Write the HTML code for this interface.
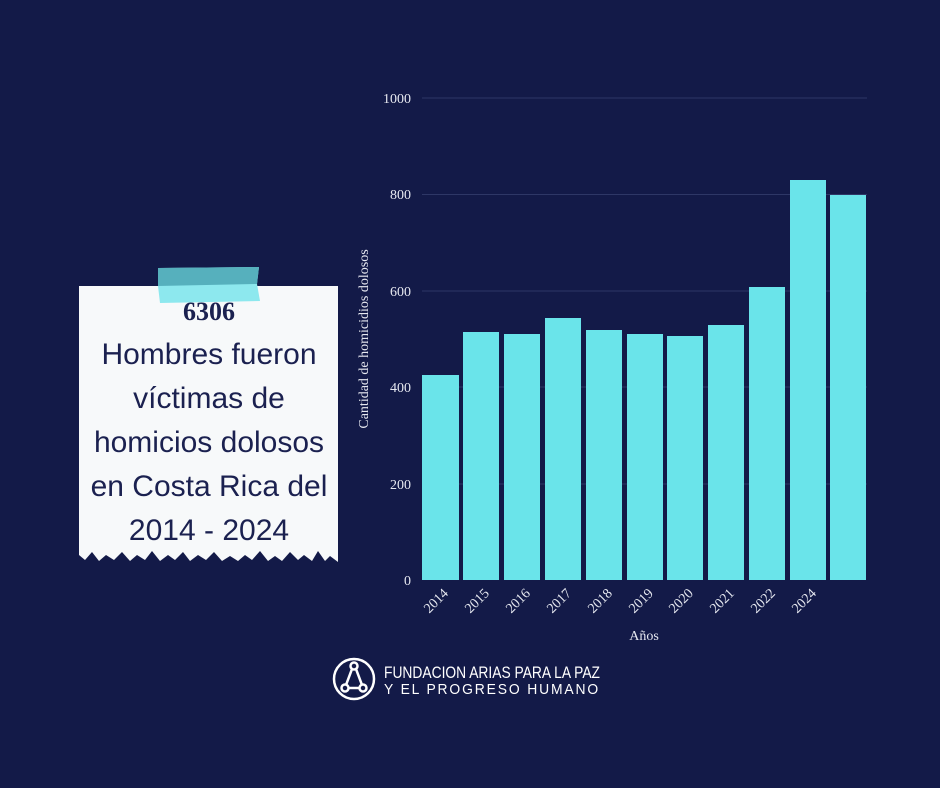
<!DOCTYPE html>
<html><head><meta charset="utf-8"><style>
html,body{margin:0;padding:0;background:#131a48;}
svg{display:block}
</style></head><body>
<svg width="940" height="788" viewBox="0 0 940 788" xmlns="http://www.w3.org/2000/svg" font-family="Liberation Serif, serif">
<rect width="940" height="788" fill="#131a48"/>
<g stroke="#2e3766" stroke-width="1">
<line x1="422" y1="98" x2="867" y2="98"/>
<line x1="422" y1="194.5" x2="867" y2="194.5"/>
<line x1="422" y1="291" x2="867" y2="291"/>
<line x1="422" y1="387" x2="867" y2="387"/>
<line x1="422" y1="484" x2="867" y2="484"/>
</g>
<g fill="#e6e8f0" font-size="14" text-anchor="end">
<text x="411" y="103">1000</text>
<text x="411" y="199">800</text>
<text x="411" y="296">600</text>
<text x="411" y="392">400</text>
<text x="411" y="489">200</text>
<text x="411" y="585">0</text>
</g>
<g fill="#6ae4ea">
<rect x="422" y="375" width="37" height="205"/>
<rect x="463" y="332" width="36" height="248"/>
<rect x="504" y="334" width="36" height="246"/>
<rect x="545" y="318" width="36" height="262"/>
<rect x="586" y="330" width="36" height="250"/>
<rect x="627" y="334" width="36" height="246"/>
<rect x="667" y="336" width="36" height="244"/>
<rect x="708" y="325" width="36" height="255"/>
<rect x="749" y="287" width="36" height="293"/>
<rect x="790" y="180" width="36" height="400"/>
<rect x="830" y="195" width="36" height="385"/>
</g>
<g fill="#e6e8f0" font-size="14" text-anchor="end">
<text transform="translate(449,594) rotate(-45)">2014</text>
<text transform="translate(490,594) rotate(-45)">2015</text>
<text transform="translate(531,594) rotate(-45)">2016</text>
<text transform="translate(572,594) rotate(-45)">2017</text>
<text transform="translate(613,594) rotate(-45)">2018</text>
<text transform="translate(654,594) rotate(-45)">2019</text>
<text transform="translate(694,594) rotate(-45)">2020</text>
<text transform="translate(735,594) rotate(-45)">2021</text>
<text transform="translate(776,594) rotate(-45)">2022</text>
<text transform="translate(817,594) rotate(-45)">2024</text>
</g>
<text x="644" y="640" fill="#e6e8f0" font-size="14" text-anchor="middle">Años</text>
<text transform="translate(368,339) rotate(-90)" fill="#e6e8f0" font-size="14" text-anchor="middle">Cantidad de homicidios dolosos</text>

<path d="M79,286 L338,286 L338,562 L330,556 L325,561 L318,551 L312,561 L304,555 L298,560 L290,552 L282,561 L275,556 L268,561 L260,551 L252,560 L245,555 L238,561 L230,556 L222,561 L214,552 L206,560 L198,555 L190,561 L183,552 L175,560 L168,555 L160,561 L152,551 L145,560 L137,555 L130,561 L122,552 L114,560 L106,555 L99,561 L92,552 L85,560 L79,555 Z" fill="#f7f9fa"/>
<path d="M158,268 L259,267 L257,284 L260,301 L160,303 L158,286 Z" fill="#8de8ee"/>
<path d="M158,268 L259,267 L257,284 L158,286 Z" fill="#56b0bd"/>
<g fill="#1b2150" text-anchor="middle" font-family="Liberation Sans, sans-serif" font-size="30">
<text x="209" y="320" font-family="Liberation Serif, serif" font-weight="bold" font-size="26">6306</text>
<text x="209" y="364">Hombres fueron</text>
<text x="209" y="408">víctimas de</text>
<text x="209" y="452">homicios dolosos</text>
<text x="209" y="496">en Costa Rica del</text>
<text x="209" y="540">2014 - 2024</text>
</g>

<circle cx="354" cy="679" r="20" fill="none" stroke="#fff" stroke-width="2.5"/>
<g stroke="#fff" stroke-width="2.5" fill="none">
<circle cx="354" cy="666" r="3.5"/>
<circle cx="345" cy="688" r="3.5"/>
<circle cx="363" cy="688" r="3.5"/>
<line x1="352" y1="669" x2="346" y2="685"/>
<line x1="356" y1="669" x2="362" y2="685"/>
<line x1="348" y1="688" x2="360" y2="688"/>
</g>
<g fill="#fff" font-family="Liberation Sans, sans-serif" font-size="17">
<text x="384" y="678" textLength="216" lengthAdjust="spacingAndGlyphs">FUNDACION ARIAS PARA LA PAZ</text>
<text x="384" y="694" textLength="216" lengthAdjust="spacingAndGlyphs" font-size="15" letter-spacing="2">Y EL  PROGRESO HUMANO</text>
</g>
</svg>
</body></html>
